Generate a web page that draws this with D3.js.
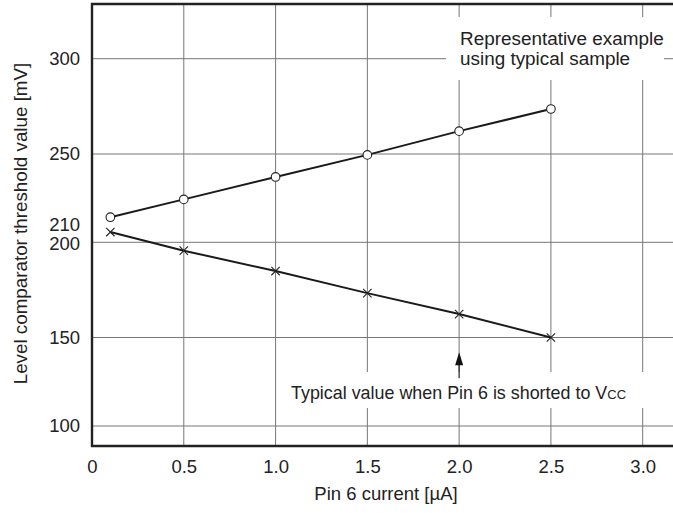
<!DOCTYPE html>
<html>
<head>
<meta charset="utf-8">
<script src="https://cdn.jsdelivr.net/npm/d3@7"></script>
<style>
  html, body { margin: 0; padding: 0; background: #fff; }
  svg { display: block; }
  text { font-family: "Liberation Sans", Arial, Helvetica, sans-serif; fill: #222; }
</style>
</head>
<body>
<svg id="chart" width="673" height="513"></svg>
<script>
// ---- Data ----
const xValues = [0.1, 0.5, 1.0, 1.5, 2.0, 2.5];
const circleSeries = [214.2, 224.3, 237.0, 249.5, 262.0, 273.6];   // representative example
const crossSeries  = [205.8, 195.6, 184.9, 173.3, 162.3, 150.0];   // Pin 6 shorted to Vcc
const xTickValues = [0, 0.5, 1.0, 1.5, 2.0, 2.5, 3.0];
const xTickLabels = ["0", "0.5", "1.0", "1.5", "2.0", "2.5", "3.0"];
const yTickValues = [100, 150, 200, 210, 250, 300];
const yGridValues = [100, 150, 200, 250, 300];
const xGridValues = [0.5, 1.0, 1.5, 2.0, 2.5, 3.0];
const xTitle = "Pin 6 current [µA]";
const yTitle = "Level comparator threshold value [mV]";
const noteTop = ["Representative example", "using typical sample"];
const noteBottom = "Typical value when Pin 6 is shorted to V";
const noteBottomSub = "CC";
const arrowX = 2.0, arrowTip = 141.7, arrowBase = 127;

(function () {
// ---- Layout ----
const svg = d3.select("#chart");
const W = 673;
const pLeft = 92, pTop = 4, pBottom = 446;

const x = d3.scaleLinear().domain([0, 3]).range([pLeft, 642.7]);
const y = d3.scaleLinear()
  .domain([100, 150, 200, 250, 300])
  .range([426, 337.5, 242.3, 154, 58.7]);

const FS = 18.5;

// gridlines
const grid = svg.append("g");
grid.selectAll("line.h").data(yGridValues).enter().append("line")
  .attr("x1", pLeft).attr("x2", W)
  .attr("y1", d => y(d)).attr("y2", d => y(d))
  .attr("stroke", "#777").attr("stroke-width", 1);
grid.selectAll("line.v").data(xGridValues).enter().append("line")
  .attr("x1", d => x(d)).attr("x2", d => x(d))
  .attr("y1", pTop).attr("y2", pBottom)
  .attr("stroke", "#777").attr("stroke-width", 1);

// white backgrounds of annotations
svg.append("rect").attr("x", 446).attr("y", 17).attr("width", 218).attr("height", 63).attr("fill", "#fff");
svg.append("rect").attr("x", 285).attr("y", 372).attr("width", 375).attr("height", 36).attr("fill", "#fff");

// frame (left, top, bottom)
svg.append("path")
  .attr("d", `M${W},${pTop}H${pLeft}V${pBottom}H${W}`)
  .attr("fill", "none").attr("stroke", "#222").attr("stroke-width", 2.4);

// axes labels
const yAxis = d3.axisLeft(y).tickValues(yTickValues).tickSize(0).tickPadding(12).tickFormat(d3.format("d"));
const gy = svg.append("g").attr("transform", `translate(${pLeft},0)`).call(yAxis);
gy.select(".domain").remove();
gy.selectAll("text").attr("font-size", FS).style("font-family", "Liberation Sans, Arial, sans-serif").attr("fill", "#222");
gy.selectAll(".tick").filter(d => d === 200).select("text").attr("dy", "0.4em");
gy.selectAll(".tick").filter(d => d === 210).select("text").attr("dy", "0.3em");

const xAxis = d3.axisBottom(x).tickValues(xTickValues).tickSize(0).tickPadding(14)
  .tickFormat((d, i) => xTickLabels[i]);
const gx = svg.append("g").attr("transform", `translate(0,${pBottom})`).call(xAxis);
gx.select(".domain").remove();
gx.selectAll("text").attr("font-size", FS).style("font-family", "Liberation Sans, Arial, sans-serif").attr("fill", "#222");

// titles
svg.append("text").attr("x", 386).attr("y", 500).attr("text-anchor", "middle")
  .attr("font-size", FS).text(xTitle);
svg.append("text").attr("transform", "translate(27,223.5) rotate(-90)").attr("text-anchor", "middle")
  .attr("font-size", 18.8).text(yTitle);

// series lines
const line = d3.line().x(d => x(d[0])).y(d => y(d[1]));
const circData = xValues.map((v, i) => [v, circleSeries[i]]);
const crossData = xValues.map((v, i) => [v, crossSeries[i]]);
svg.append("path").datum(circData).attr("d", line).attr("fill", "none").attr("stroke", "#1a1a1a").attr("stroke-width", 2);
svg.append("path").datum(crossData).attr("d", line).attr("fill", "none").attr("stroke", "#1a1a1a").attr("stroke-width", 2);

// markers
svg.selectAll("circle.m").data(circData).enter().append("circle")
  .attr("cx", d => x(d[0])).attr("cy", d => y(d[1])).attr("r", 4.3)
  .attr("fill", "#fff").attr("stroke", "#222").attr("stroke-width", 1.1);
const cr = 4.2;
svg.selectAll("path.x").data(crossData).enter().append("path")
  .attr("d", d => {
    const cx = x(d[0]), cy = y(d[1]);
    return `M${cx - cr},${cy - cr}L${cx + cr},${cy + cr}M${cx - cr},${cy + cr}L${cx + cr},${cy - cr}`;
  })
  .attr("fill", "none").attr("stroke", "#222").attr("stroke-width", 1.1);

// annotations
const tt = svg.append("text").attr("x", 460).attr("y", 45).attr("font-size", 18.9);
tt.append("tspan").attr("x", 460).attr("y", 45).text(noteTop[0]);
tt.append("tspan").attr("x", 460).attr("y", 65).text(noteTop[1]);

const bt = svg.append("text").attr("x", 291).attr("y", 399).attr("font-size", 17.9);
bt.append("tspan").text(noteBottom);
bt.append("tspan").attr("font-size", 13).text(noteBottomSub);

// arrow
const ax = x(arrowX);
svg.append("line").attr("x1", ax).attr("x2", ax).attr("y1", y(arrowTip) + 10).attr("y2", y(arrowBase))
  .attr("stroke", "#222").attr("stroke-width", 1.2);
svg.append("path")
  .attr("d", `M${ax},${y(arrowTip)}L${ax - 4},${y(arrowTip) + 13}L${ax + 4},${y(arrowTip) + 13}Z`)
  .attr("fill", "#111");
})();
</script>
</body>
</html>
